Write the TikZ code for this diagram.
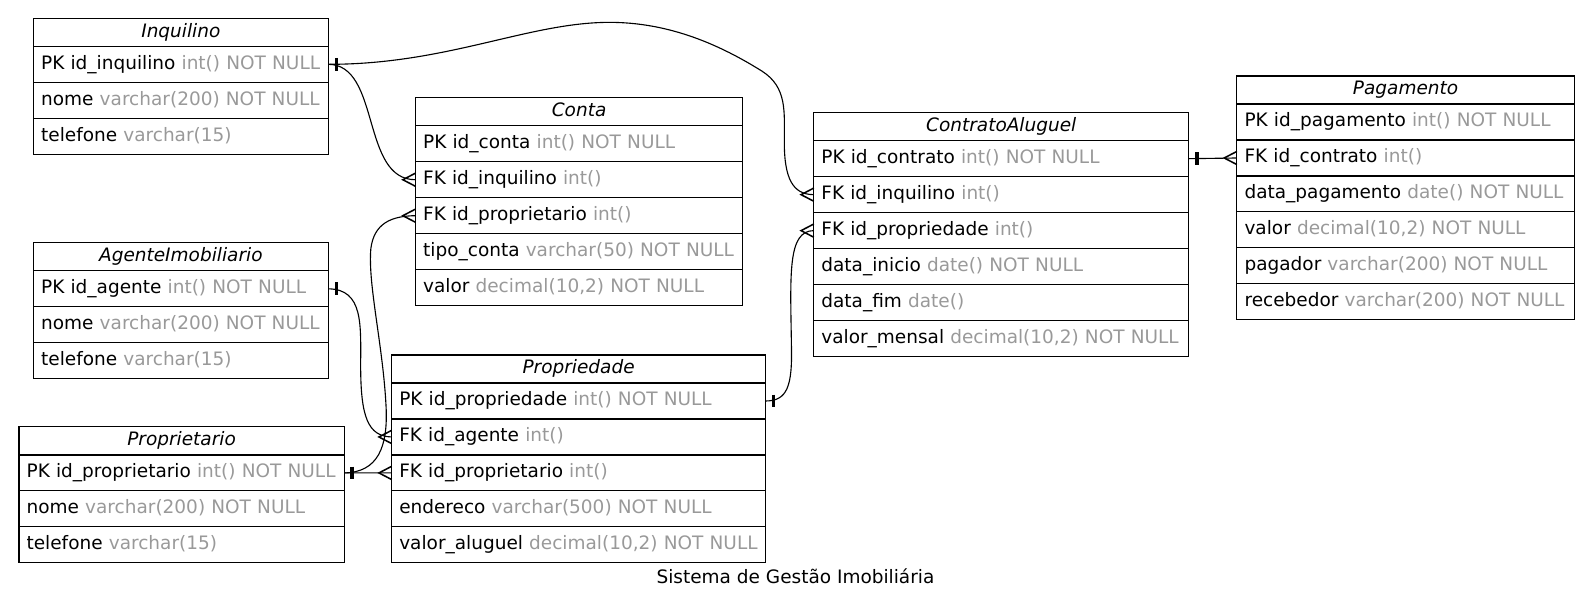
\documentclass[tikz,border=0pt]{standalone}
\usepackage{fontspec}
\setmainfont{DejaVu Sans}
\usepackage{tikz}
\usetikzlibrary{positioning}
\definecolor{typegray}{RGB}{153,153,153}
\newcommand{\dtype}[1]{\textcolor{typegray}{#1}}

\begin{document}
\begin{tikzpicture}[x=1pt, y=-1pt,
		font=\fontsize{18.2pt}{22pt}\selectfont,
		tblhead/.style={draw, line width=1.1pt, outer sep=0pt, inner ysep=0pt, minimum width=#1, minimum height=27.6pt, text height=13.5pt, text depth=4pt, font=\fontsize{18.2pt}{22pt}\selectfont\itshape, anchor=north west},
		tblrow/.style={draw, line width=1.1pt, outer sep=0pt, inner xsep=7.5pt, inner ysep=0pt, text width=#1-15pt, align=left, minimum height=35.4pt, text height=13.5pt, text depth=4pt, execute at begin node=\hbox\bgroup, execute at end node=\egroup},
		rel/.style={line width=1.1pt},
		crowfoot/.style={line width=1.5pt},
		onebar/.style={line width=3.5pt}]
		\useasboundingbox (0,0) rectangle (1568,603.3);
		
		% Inquilino
		\node[tblhead=290pt] (inq) at (33,18) {Inquilino};
		\node[tblrow=290pt, below=0pt of inq] (inqpk) {PK id\_inquilino \dtype{int() NOT NULL}};
		\node[tblrow=290pt, below=0pt of inqpk] (inqnome) {nome \dtype{varchar(200) NOT NULL}};
		\node[tblrow=290pt, below=0pt of inqnome] (inqtel) {telefone \dtype{varchar(15)}};
		
		% Conta
		\node[tblhead=322pt] (conta) at (409,96.2) {Conta};
		\node[tblrow=322pt, below=0pt of conta] (contapk) {PK id\_conta \dtype{int() NOT NULL}};
		\node[tblrow=322pt, below=0pt of contapk] (containq) {FK id\_inquilino \dtype{int()}};
		\node[tblrow=322pt, below=0pt of containq] (contaprop) {FK id\_proprietario \dtype{int()}};
		\node[tblrow=322pt, below=0pt of contaprop] (contatipo) {tipo\_conta \dtype{varchar(50) NOT NULL}};
		\node[tblrow=322pt, below=0pt of contatipo] (contavalor) {valor \dtype{decimal(10,2) NOT NULL}};
		
		% AgenteImobiliario
		\node[tblhead=290pt] (ag) at (33,239) {AgenteImobiliario};
		\node[tblrow=290pt, below=0pt of ag] (agpk) {PK id\_agente \dtype{int() NOT NULL}};
		\node[tblrow=290pt, below=0pt of agpk] (agnome) {nome \dtype{varchar(200) NOT NULL}};
		\node[tblrow=290pt, below=0pt of agnome] (agtel) {telefone \dtype{varchar(15)}};
		
		% Proprietario
		\node[tblhead=320pt] (pr) at (18.7,420.2) {Proprietario};
		\node[tblrow=320pt, below=0pt of pr] (prpk) {PK id\_proprietario \dtype{int() NOT NULL}};
		\node[tblrow=320pt, below=0pt of prpk] (prnome) {nome \dtype{varchar(200) NOT NULL}};
		\node[tblrow=320pt, below=0pt of prnome] (prtel) {telefone \dtype{varchar(15)}};
		
		% Propriedade
		\node[tblhead=368pt] (pd) at (385.5,349.4) {Propriedade};
		\node[tblrow=368pt, below=0pt of pd] (pdpk) {PK id\_propriedade \dtype{int() NOT NULL}};
		\node[tblrow=368pt, below=0pt of pdpk] (pdag) {FK id\_agente \dtype{int()}};
		\node[tblrow=368pt, below=0pt of pdag] (pdprop) {FK id\_proprietario \dtype{int()}};
		\node[tblrow=368pt, below=0pt of pdprop] (pdend) {endereco \dtype{varchar(500) NOT NULL}};
		\node[tblrow=368pt, below=0pt of pdend] (pdval) {valor\_aluguel \dtype{decimal(10,2) NOT NULL}};
		
		% ContratoAluguel
		\node[tblhead=369pt] (ca) at (801,110.9) {ContratoAluguel};
		\node[tblrow=369pt, below=0pt of ca] (capk) {PK id\_contrato \dtype{int() NOT NULL}};
		\node[tblrow=369pt, below=0pt of capk] (cainq) {FK id\_inquilino \dtype{int()}};
		\node[tblrow=369pt, below=0pt of cainq] (caprop) {FK id\_propriedade \dtype{int()}};
		\node[tblrow=369pt, below=0pt of caprop] (cainicio) {data\_inicio \dtype{date() NOT NULL}};
		\node[tblrow=369pt, below=0pt of cainicio] (cafim) {data\_fim \dtype{date()}};
		\node[tblrow=369pt, below=0pt of cafim] (camensal) {valor\_mensal \dtype{decimal(10,2) NOT NULL}};
		
		% Pagamento
		\node[tblhead=332pt] (pg) at (1217.5,74.8) {Pagamento};
		\node[tblrow=332pt, below=0pt of pg] (pgpk) {PK id\_pagamento \dtype{int() NOT NULL}};
		\node[tblrow=332pt, below=0pt of pgpk] (pgcontr) {FK id\_contrato \dtype{int()}};
		\node[tblrow=332pt, below=0pt of pgcontr] (pgdata) {data\_pagamento \dtype{date() NOT NULL}};
		\node[tblrow=332pt, below=0pt of pgdata] (pgvalor) {valor \dtype{decimal(10,2) NOT NULL}};
		\node[tblrow=332pt, below=0pt of pgvalor] (pgpagador) {pagador \dtype{varchar(200) NOT NULL}};
		\node[tblrow=332pt, below=0pt of pgpagador] (pgreceb) {recebedor \dtype{varchar(200) NOT NULL}};
		
		% Title
		\node (title) at (783,567) {Sistema de Gestão Imobiliária};
		
		% Relations
		\draw[rel] (inqpk.east) .. controls (440,63.5) and (520,22) .. (600,22) .. controls (660,22) and (710,45) .. (750,70) .. controls (775,86) and (772,110) .. (772,140) .. controls (772,175) and (780,191.6) .. (cainq.west);
		\draw[rel] (inqpk.east) .. controls (375,63.5) and (355,177) .. (containq.west);
		\draw[rel] (prpk.east) .. controls (372,465) and (382,440) .. (380,400) .. controls (377,340) and (362,280) .. (365,245) .. controls (368,220) and (385,212.5) .. (contaprop.west);
		\draw[rel] (agpk.east) .. controls (358,284.5) and (355,320) .. (355,360) .. controls (355,410) and (362,429.5) .. (pdag.west);
		\draw[rel] (prpk.east) -- (pdprop.west);
		\draw[rel] (pdpk.east) .. controls (775,394.7) and (780,380) .. (779,340) .. controls (778,270) and (775,227) .. (caprop.west);
		\draw[rel] (capk.east) -- (pgcontr.west);
		
		% One side
		\draw[onebar] ([xshift=8pt,yshift=6.25pt]inqpk.east) -- ++(0pt,-12.5pt);
		\draw[onebar] ([xshift=8pt,yshift=6.25pt]agpk.east) -- ++(0pt,-12.5pt);
		\draw[onebar] ([xshift=8pt,yshift=6.25pt]prpk.east) -- ++(0pt,-12.5pt);
		\draw[onebar] ([xshift=8pt,yshift=6.25pt]pdpk.east) -- ++(0pt,-12.5pt);
		\draw[onebar] ([xshift=8pt,yshift=6.25pt]capk.east) -- ++(0pt,-12.5pt);
		
		% Many side
		\draw[crowfoot] ([yshift=6.5pt]containq.west) -- ++(-12.5pt,-6.5pt) -- ++(12.5pt,-6.5pt);
		\draw[crowfoot] ([yshift=6.5pt]contaprop.west) -- ++(-12.5pt,-6.5pt) -- ++(12.5pt,-6.5pt);
		\draw[crowfoot] ([yshift=6.5pt]cainq.west) -- ++(-12.5pt,-6.5pt) -- ++(12.5pt,-6.5pt);
		\draw[crowfoot] ([yshift=6.5pt]caprop.west) -- ++(-12.5pt,-6.5pt) -- ++(12.5pt,-6.5pt);
		\draw[crowfoot] ([yshift=6.5pt]pdag.west) -- ++(-12.5pt,-6.5pt) -- ++(12.5pt,-6.5pt);
		\draw[crowfoot] ([yshift=6.5pt]pdprop.west) -- ++(-12.5pt,-6.5pt) -- ++(12.5pt,-6.5pt);
		\draw[crowfoot] ([yshift=6.5pt]pgcontr.west) -- ++(-12.5pt,-6.5pt) -- ++(12.5pt,-6.5pt);
	\end{tikzpicture}
\end{document}
